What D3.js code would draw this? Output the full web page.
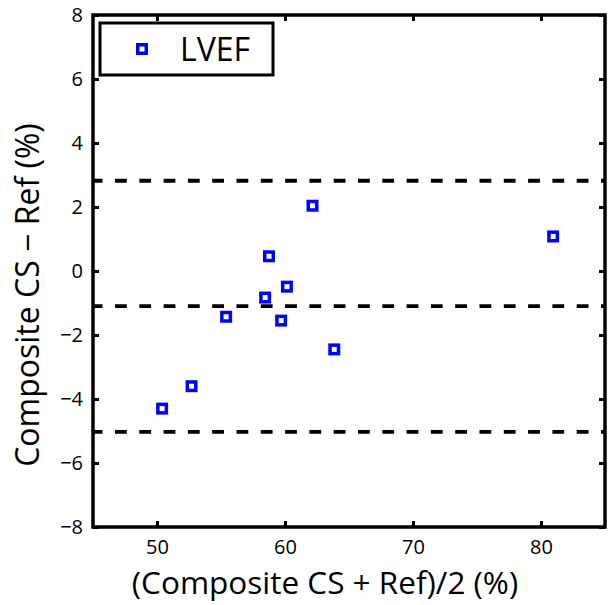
<!DOCTYPE html>
<html>
<head>
<meta charset="utf-8">
<script src="https://cdn.jsdelivr.net/npm/d3@7"></script>
<style>
  body { margin: 0; background: #fff; }
  svg text { font-family: "Open Sans", "Noto Sans", sans-serif; fill: #000; }
</style>
</head>
<body>
<div id="chart"></div>
<script>
// Bland-Altman points: mean of the two methods vs difference
var meanVals = [50.4, 52.7, 55.4, 58.45, 58.75, 59.7, 60.15, 62.15, 63.85, 80.95];
var diffVals = [-4.3, -3.6, -1.43, -0.83, 0.46, -1.55, -0.49, 2.04, -2.45, 1.08];
var limitVals = [2.82, -1.1, -5.03];   // upper LoA, bias, lower LoA
var xTicks = [50, 60, 70, 80];
var yTicks = [-8, -6, -4, -2, 0, 2, 4, 6, 8];
var seriesName = "LVEF";

var W = 616, H = 605;
var m = {left: 93, top: 15, right: 11, bottom: 78};
var iw = W - m.left - m.right, ih = H - m.top - m.bottom;

var svg = d3.select("#chart").append("svg").attr("width", W).attr("height", H);
var g = svg.append("g").attr("transform", "translate(" + m.left + "," + m.top + ")");

var x = d3.scaleLinear().domain([45, 85]).range([0, iw]);
var y = d3.scaleLinear().domain([-8, 8]).range([ih, 0]);

function styleAxis(sel) {
  sel.select(".domain").remove();
  sel.selectAll(".tick line").attr("stroke", "#000").attr("stroke-width", 3);
  sel.selectAll(".tick text").style("font-size", "20px");
}

// bottom / left with labels, top / right ticks only
g.append("g").attr("transform", "translate(0," + ih + ")")
  .call(d3.axisBottom(x).tickValues(xTicks).tickSize(-6).tickPadding(13))
  .call(styleAxis);
g.append("g")
  .call(d3.axisTop(x).tickValues(xTicks).tickSize(-6).tickFormat(""))
  .call(styleAxis);
g.append("g")
  .call(d3.axisLeft(y).tickValues(yTicks).tickSize(-6).tickPadding(10))
  .call(styleAxis);
g.append("g").attr("transform", "translate(" + iw + ",0)")
  .call(d3.axisRight(y).tickValues(yTicks).tickSize(-6).tickFormat(""))
  .call(styleAxis);

// limit lines
g.selectAll(".limit").data(limitVals).enter().append("line")
  .attr("class", "limit")
  .attr("x1", x(45)).attr("x2", x(85))
  .attr("y1", function(d){ return y(d); }).attr("y2", function(d){ return y(d); })
  .attr("stroke", "#000").attr("stroke-width", 3.8)
  .attr("stroke-dasharray", "11.8,12.5").attr("stroke-dashoffset", 2.3);

// points
var sq = 8.5;
g.selectAll(".pt").data(meanVals).enter().append("rect")
  .attr("class", "pt")
  .attr("x", function(d){ return x(d) - sq / 2; })
  .attr("y", function(d, i){ return y(diffVals[i]) - sq / 2; })
  .attr("width", sq).attr("height", sq)
  .attr("fill", "#fff").attr("stroke", "#0000ff").attr("stroke-width", 3.5);

// frame
g.append("rect").attr("width", iw).attr("height", ih)
  .attr("fill", "none").attr("stroke", "#000").attr("stroke-width", 3.5);

// legend
var lg = g.append("g").attr("transform", "translate(7,8)");
lg.append("rect").attr("width", 173).attr("height", 52)
  .attr("fill", "#fff").attr("stroke", "#000").attr("stroke-width", 3);
lg.append("rect").attr("x", 42 - sq / 2).attr("y", 26 - sq / 2).attr("width", sq).attr("height", sq)
  .attr("fill", "#fff").attr("stroke", "#0000ff").attr("stroke-width", 3.5);
lg.append("text").attr("x", 80).attr("y", 38).style("font-size", "32px").text(seriesName);

// axis titles
svg.append("text")
  .attr("x", 325).attr("y", 594)
  .attr("text-anchor", "middle").style("font-size", "31.5px")
  .text("(Composite CS + Ref)/2 (%)");
svg.append("text")
  .attr("transform", "translate(39,295) rotate(-90)")
  .attr("text-anchor", "middle").style("font-size", "32px")
  .text("Composite CS \u2212 Ref (%)");
</script>
</body>
</html>
